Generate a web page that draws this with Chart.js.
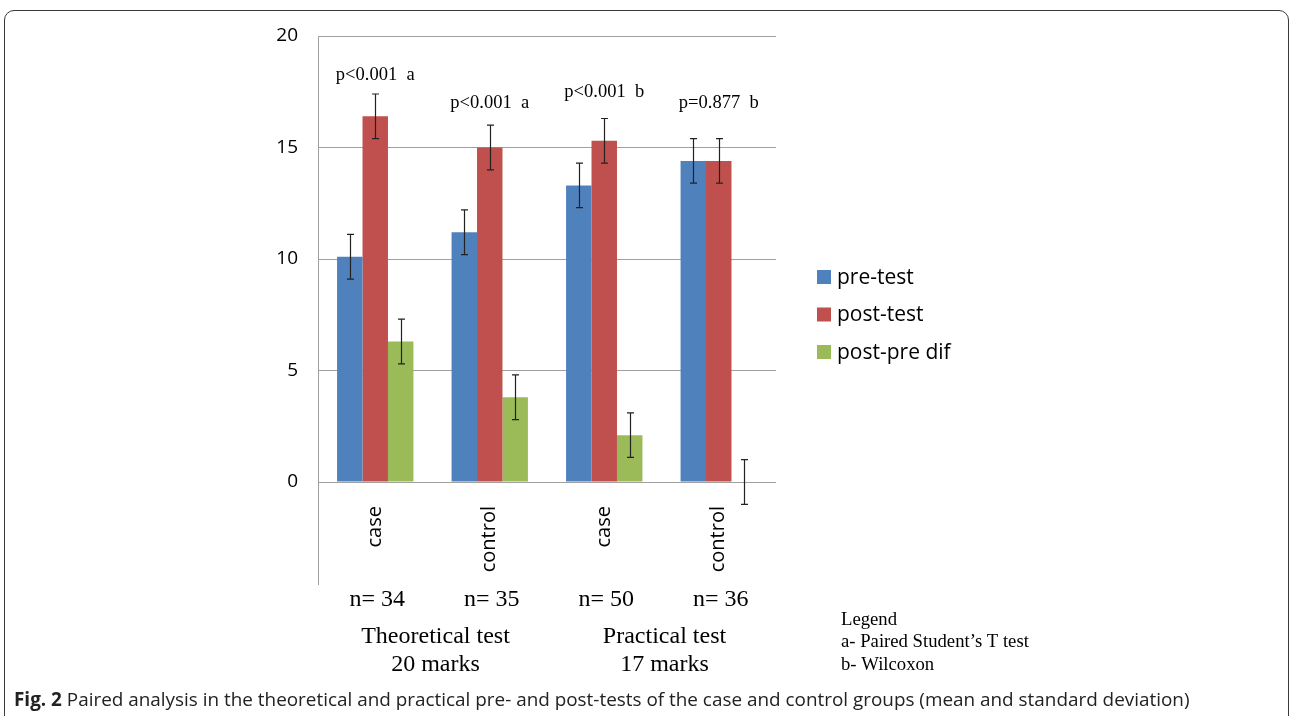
<!DOCTYPE html>
<html lang="en">

<head>
    <meta charset="UTF-8">
    <title>Fig. 2 Paired analysis</title>
    <script src="https://cdn.jsdelivr.net/npm/chart.js"></script>
    <style>
        html, body { margin: 0; padding: 0; background: #fff; }
        .moldura {
            position: absolute; left: 4px; top: 10px; width: 1283px; height: 740px;
            border: 1.5px solid #3a3a3a; border-radius: 10px;
        }
        #grafico { position: absolute; left: 0; top: 0; }
        .legenda-fig {
            position: absolute; left: 14px; top: 686px; font-family: 'Open Sans', sans-serif;
            font-size: 18.9px; color: #222; white-space: nowrap;
        }
        .legenda-fig b { font-weight: 700; }
    </style>
</head>

<body>
    <div class="moldura"></div>
    <canvas id="grafico" width="1292" height="716"></canvas>
    <div class="legenda-fig"><b>Fig. 2</b> Paired analysis in the theoretical and practical pre- and post-tests of the case and control groups (mean and standard deviation)</div>

<script>
    // dados
    const categorias = ['case', 'control', 'case', 'control'];
    const preTeste = [10.1, 11.2, 13.3, 14.4];
    const posTeste = [16.4, 15.0, 15.3, 14.4];
    const difPosPre = [6.3, 3.8, 2.1, 0];
    const erroPre = [1, 1, 1, 1];
    const erroPos = [1, 1, 1, 1];
    const erroDif = [1, 1, 1, 1];
    const rotulosP = ['p<0.001  a', 'p<0.001  a', 'p<0.001  b', 'p=0.877  b'];
    const alturaRotulosP = [18.25, 17.0, 17.5, 17.0];
    const rotulosN = ['n= 34', 'n= 35', 'n= 50', 'n= 36'];
    const grupos = [['Theoretical test', '20 marks'], ['Practical test', '17 marks']];
    const notas = ['Legend', 'a- Paired Student\u2019s T test', 'b- Wilcoxon'];

    const erros = [erroPre, erroPos, erroDif];

    // plugin para barras de erro e textos extras
    const extras = {
        id: 'extras',
        afterDatasetsDraw(chart) {
            const ctx = chart.ctx;
            const y = chart.scales.y;
            const x = chart.scales.x;
            const area = chart.chartArea;
            ctx.save();

            // prolongamento do eixo vertical
            ctx.strokeStyle = '#a0a0a0';
            ctx.lineWidth = 1;
            ctx.beginPath();
            ctx.moveTo(area.left + 0.5, area.bottom);
            ctx.lineTo(area.left + 0.5, area.bottom + 103);
            ctx.stroke();

            // barras de erro
            ctx.strokeStyle = '#222';
            ctx.lineWidth = 1.2;
            chart.data.datasets.forEach((ds, i) => {
                chart.getDatasetMeta(i).data.forEach((bar, j) => {
                    const v = ds.data[j];
                    const e = erros[i][j];
                    const yTop = y.getPixelForValue(v + e);
                    const yBot = y.getPixelForValue(v - e);
                    const bx = Math.round(bar.x) + 0.5;
                    ctx.beginPath();
                    ctx.moveTo(bx, yTop); ctx.lineTo(bx, yBot);
                    ctx.moveTo(bx - 3.5, yTop); ctx.lineTo(bx + 3.5, yTop);
                    ctx.moveTo(bx - 3.5, yBot); ctx.lineTo(bx + 3.5, yBot);
                    ctx.stroke();
                });
            });

            // textos em serifa
            ctx.fillStyle = '#000';
            ctx.textAlign = 'center';
            ctx.textBaseline = 'middle';
            ctx.font = '18.5px "Liberation Serif", serif';
            rotulosP.forEach((t, j) => {
                ctx.fillText(t, x.getPixelForValue(j), y.getPixelForValue(alturaRotulosP[j]));
            });

            ctx.font = '24px "Liberation Serif", serif';
            rotulosN.forEach((t, j) => {
                ctx.fillText(t, x.getPixelForValue(j) + 2, area.bottom + 118);
            });
            grupos.forEach((g, k) => {
                const cx = (x.getPixelForValue(2 * k) + x.getPixelForValue(2 * k + 1)) / 2 + 3;
                ctx.fillText(g[0], cx, area.bottom + 155);
                ctx.fillText(g[1], cx, area.bottom + 183);
            });

            ctx.textAlign = 'left';
            ctx.font = '18.7px "Liberation Serif", serif';
            notas.forEach((t, k) => {
                ctx.fillText(t, 841, 620 + k * 22.5);
            });

            // legenda das series
            ctx.font = '21px "Open Sans", sans-serif';
            chart.data.datasets.forEach((ds, i) => {
                const ly = 277 + i * 37.5;
                ctx.fillStyle = ds.backgroundColor;
                ctx.fillRect(817, ly - 7, 14, 14);
                ctx.fillStyle = '#000';
                ctx.fillText(ds.label, 837, ly + 1);
            });

            ctx.restore();
        }
    };

    new Chart(document.getElementById('grafico'), {
        type: 'bar',
        data: {
            labels: categorias,
            datasets: [
                { label: 'pre-test', data: preTeste, backgroundColor: '#4f81bd' },
                { label: 'post-test', data: posTeste, backgroundColor: '#c0504d' },
                { label: 'post-pre dif', data: difPosPre, backgroundColor: '#9bbb59' }
            ]
        },
        options: {
            responsive: false,
            animation: false,
            barPercentage: 1,
            categoryPercentage: 0.667,
            layout: { padding: { left: 240, right: 516, top: 36, bottom: 0 } },
            plugins: { legend: { display: false }, tooltip: { enabled: false } },
            scales: {
                x: {
                    grid: { display: false },
                    border: { display: false },
                    ticks: {
                        minRotation: 90, maxRotation: 90, padding: 16,
                        color: '#000', font: { family: 'Open Sans', size: 20 }
                    },
                    afterFit(s) { s.height = 234; }
                },
                y: {
                    min: 0, max: 20,
                    grid: { color: '#a0a0a0', drawTicks: false },
                    border: { color: '#a0a0a0' },
                    ticks: {
                        stepSize: 5, padding: 20,
                        color: '#000', font: { family: 'Open Sans', size: 19 }
                    },
                    afterFit(s) { s.width = 78; }
                }
            }
        },
        plugins: [extras]
    });
</script>
</body>

</html>
